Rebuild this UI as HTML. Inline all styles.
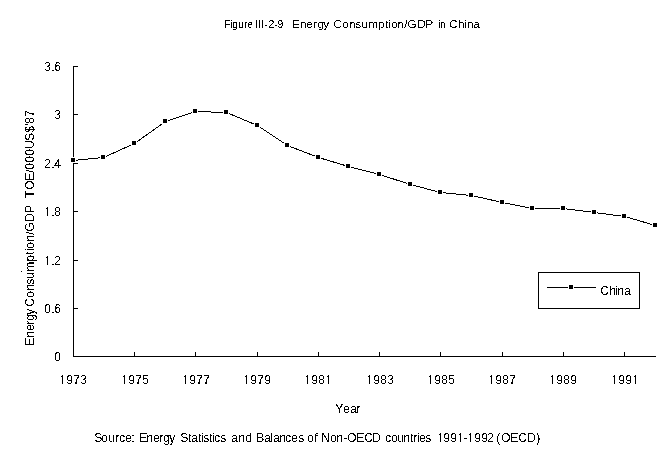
<!DOCTYPE html>
<html><head><meta charset="utf-8"><title>Figure III-2-9 Energy Consumption/GDP in China</title>
<style>
html,body{margin:0;padding:0;background:#fff;}
body{width:662px;height:459px;overflow:hidden;}
svg{display:block;}
text{font-family:"Liberation Sans",Arial,sans-serif;fill:#000;white-space:pre;}
</style></head><body>
<svg width="662" height="459" viewBox="0 0 662 459">
<defs><filter id="px" filterUnits="userSpaceOnUse" x="0" y="0" width="662" height="459" color-interpolation-filters="sRGB"><feComponentTransfer><feFuncA type="discrete" tableValues="0 0 0 0 0 0 0 0 0 1 1 1 1 1 1 1 1 1 1 1"/></feComponentTransfer></filter></defs>
<rect width="662" height="459" fill="#fff"/>
<g shape-rendering="crispEdges" stroke="#000" stroke-width="1" fill="none">
<line x1="73.5" y1="66" x2="73.5" y2="357"/>
<line x1="73" y1="356.5" x2="656" y2="356.5"/>
<line x1="73" y1="66.5" x2="78" y2="66.5"/>
<line x1="73" y1="114.5" x2="78" y2="114.5"/>
<line x1="73" y1="163.5" x2="78" y2="163.5"/>
<line x1="73" y1="211.5" x2="78" y2="211.5"/>
<line x1="73" y1="260.5" x2="78" y2="260.5"/>
<line x1="73" y1="308.5" x2="78" y2="308.5"/>
<line x1="134.5" y1="352" x2="134.5" y2="356"/>
<line x1="195.5" y1="352" x2="195.5" y2="356"/>
<line x1="257.5" y1="352" x2="257.5" y2="356"/>
<line x1="318.5" y1="352" x2="318.5" y2="356"/>
<line x1="379.5" y1="352" x2="379.5" y2="356"/>
<line x1="440.5" y1="352" x2="440.5" y2="356"/>
<line x1="502.5" y1="352" x2="502.5" y2="356"/>
<line x1="563.5" y1="352" x2="563.5" y2="356"/>
<line x1="624.5" y1="352" x2="624.5" y2="356"/>
</g>
<polyline points="73.5,160.5 103.5,157.5 134.5,143.5 165.5,121.5 195.5,111.5 226.5,112.5 257.5,125.5 287.5,145.5 318.5,157.5 348.5,166.5 379.5,174.5 410.5,184.5 440.5,192.5 471.5,195.5 502.5,202.5 532.5,208.5 563.5,208.5 594.5,212.5 624.5,216.5 655.5,225.5" fill="none" stroke="#000" stroke-width="1" shape-rendering="crispEdges"/>
<g shape-rendering="crispEdges"><rect x="70" y="157" width="6" height="6" fill="#fff"/><rect x="100" y="154" width="6" height="6" fill="#fff"/><rect x="131" y="140" width="6" height="6" fill="#fff"/><rect x="162" y="118" width="6" height="6" fill="#fff"/><rect x="192" y="108" width="6" height="6" fill="#fff"/><rect x="223" y="109" width="6" height="6" fill="#fff"/><rect x="254" y="122" width="6" height="6" fill="#fff"/><rect x="284" y="142" width="6" height="6" fill="#fff"/><rect x="315" y="154" width="6" height="6" fill="#fff"/><rect x="345" y="163" width="6" height="6" fill="#fff"/><rect x="376" y="171" width="6" height="6" fill="#fff"/><rect x="407" y="181" width="6" height="6" fill="#fff"/><rect x="437" y="189" width="6" height="6" fill="#fff"/><rect x="468" y="192" width="6" height="6" fill="#fff"/><rect x="499" y="199" width="6" height="6" fill="#fff"/><rect x="529" y="205" width="6" height="6" fill="#fff"/><rect x="560" y="205" width="6" height="6" fill="#fff"/><rect x="591" y="209" width="6" height="6" fill="#fff"/><rect x="621" y="213" width="6" height="6" fill="#fff"/><rect x="652" y="222" width="6" height="6" fill="#fff"/><rect x="71" y="158" width="4" height="4" fill="#000"/><rect x="101" y="155" width="4" height="4" fill="#000"/><rect x="132" y="141" width="4" height="4" fill="#000"/><rect x="163" y="119" width="4" height="4" fill="#000"/><rect x="193" y="109" width="4" height="4" fill="#000"/><rect x="224" y="110" width="4" height="4" fill="#000"/><rect x="255" y="123" width="4" height="4" fill="#000"/><rect x="285" y="143" width="4" height="4" fill="#000"/><rect x="316" y="155" width="4" height="4" fill="#000"/><rect x="346" y="164" width="4" height="4" fill="#000"/><rect x="377" y="172" width="4" height="4" fill="#000"/><rect x="408" y="182" width="4" height="4" fill="#000"/><rect x="438" y="190" width="4" height="4" fill="#000"/><rect x="469" y="193" width="4" height="4" fill="#000"/><rect x="500" y="200" width="4" height="4" fill="#000"/><rect x="530" y="206" width="4" height="4" fill="#000"/><rect x="561" y="206" width="4" height="4" fill="#000"/><rect x="592" y="210" width="4" height="4" fill="#000"/><rect x="622" y="214" width="4" height="4" fill="#000"/><rect x="653" y="223" width="4" height="4" fill="#000"/></g>
<g shape-rendering="crispEdges">
<rect x="538.5" y="272.5" width="101" height="36" fill="#fff" stroke="#000" stroke-width="1"/>
<line x1="547" y1="287.5" x2="596" y2="287.5" stroke="#000"/>
<rect x="568" y="284" width="6" height="6" fill="#fff"/>
<rect x="569" y="285" width="4" height="4" fill="#000"/>
</g>
<rect x="21" y="271" width="1" height="1" fill="#000" shape-rendering="crispEdges"/>
<g filter="url(#px)">
<text transform="scale(0.9293,1)" y="28" font-size="11" xml:space="preserve"><tspan x="241.26 247.72 249.87 256.32 262.78 266.01">Figure </tspan></text>
<text transform="scale(0.9926,1)" y="28" font-size="11" xml:space="preserve"><tspan x="257.1 260.13 263.15 266.17 270.2 276.25 279.27">III-2-9   </tspan></text>
<text transform="scale(1.0712,1)" y="28" font-size="11" xml:space="preserve"><tspan x="272.77 280.24 285.84 292.38 296.11 301.71">Energy </tspan></text>
<text transform="scale(1.0895,1)" y="28" font-size="11" xml:space="preserve"><tspan x="305.83 314.09 320.51 326.02 331.53 337.95 347.13 353.56 356.31 359.06 364.57 370.99 373.75 382.93 390.27">Consumption/GDP </tspan></text>
<text transform="scale(0.8767,1)" y="28" font-size="11" xml:space="preserve"><tspan x="499.82 502.1">in </tspan></text>
<text transform="scale(1.0717,1)" y="28" font-size="11" xml:space="preserve"><tspan x="419.15 427.55 433.15 435.95 441.55">China</tspan></text>
<text y="71" font-size="12"><tspan x="44.2 51.2 54.2">3.6</tspan></text>
<text y="119" font-size="12"><tspan x="54.2">3</tspan></text>
<text y="168" font-size="12"><tspan x="44.2 51.2 54.2">2.4</tspan></text>
<text y="216" font-size="12"><tspan x="44.2 51.2 54.2">1.8</tspan></text>
<text y="265" font-size="12"><tspan x="44.2 51.2 54.2">1.2</tspan></text>
<text y="313" font-size="12"><tspan x="44.2 51.2 54.2">0.6</tspan></text>
<text y="361" font-size="12"><tspan x="54.2">0</tspan></text>
<text y="384" font-size="12"><tspan x="59.2 66.2 73.2 80.2">1973</tspan></text>
<text y="384" font-size="12"><tspan x="121.2 128.2 135.2 142.2">1975</tspan></text>
<text y="384" font-size="12"><tspan x="182.2 189.2 196.2 203.2">1977</tspan></text>
<text y="384" font-size="12"><tspan x="243.2 250.2 257.2 264.2">1979</tspan></text>
<text y="384" font-size="12"><tspan x="304.2 311.2 318.2 325.2">1981</tspan></text>
<text y="384" font-size="12"><tspan x="366.2 373.2 380.2 387.2">1983</tspan></text>
<text y="384" font-size="12"><tspan x="427.2 434.2 441.2 448.2">1985</tspan></text>
<text y="384" font-size="12"><tspan x="488.2 495.2 502.2 509.2">1987</tspan></text>
<text y="384" font-size="12"><tspan x="549.2 556.2 563.2 570.2">1989</tspan></text>
<text y="384" font-size="12"><tspan x="611.2 618.2 625.2 632.2">1991</tspan></text>
<text y="413" font-size="12"><tspan x="335.2 343.2 350.2 356.2">Year</tspan></text>
<text transform="translate(34,0) rotate(-90)" font-size="12" xml:space="preserve"><tspan x="-345.8 -337.8 -330.8 -324.8 -320.8 -314.8">Energy </tspan><tspan x="-306.8 -297.8 -290.8 -284.8 -278.8 -271.8 -261.8 -254.8 -250.8 -248.8 -241.8 -234.8 -231.8 -221.8 -212.8">Consumption/GDP  </tspan><tspan x="-197.8 -189.8 -180.8 -172.8 -169.8 -162.8 -155.8 -148.8 -140.8 -132.8 -125.8 -123.8 -116.8">TOE/000US$'87</tspan></text>
<text y="442" font-size="12" xml:space="preserve"><tspan x="94.2 101.2 108.2 115.2 119.2 125.2 131.2">Source: </tspan><tspan x="139.2 146.2 153.2 159.2 163.2 169.2">Energy </tspan><tspan x="180.2 188.2 191.2 198.2 201.2 203.2 209.2 212.2 214.2 220.2">Statistics </tspan><tspan x="231.2 238.2 245.2">and </tspan><tspan x="256.2 264.2 270.2 273.2 279.2 285.2 291.2 298.2">Balances </tspan><tspan x="307.2 314.2">of </tspan><tspan x="321.2 330.2 336.2 343.2 347.2 356.2 364.2 372.2">Non-OECD </tspan><tspan x="385.2 391.2 397.2 403.2 410.2 413.2 417.2 419.2 425.2">countries </tspan><tspan x="437.2 443.2 450.2 457.2 463.2 467.2 474.2 481.2 487.2">1991-1992 </tspan><tspan x="496.2 501.2 510.2 518.2 527.2 536.2">(OECD)</tspan></text>
<text y="295" font-size="12"><tspan x="600.2 609.2 615.2 617.2 624.2">China</tspan></text>
</g>
<g fill="#fff" shape-rendering="crispEdges"><rect x="45" y="215" width="2" height="1"/><rect x="48" y="215" width="2" height="1"/><rect x="45" y="264" width="2" height="1"/><rect x="48" y="264" width="2" height="1"/><rect x="60" y="383" width="2" height="1"/><rect x="63" y="383" width="2" height="1"/><rect x="122" y="383" width="2" height="1"/><rect x="125" y="383" width="2" height="1"/><rect x="183" y="383" width="2" height="1"/><rect x="186" y="383" width="2" height="1"/><rect x="244" y="383" width="2" height="1"/><rect x="247" y="383" width="2" height="1"/><rect x="305" y="383" width="2" height="1"/><rect x="308" y="383" width="2" height="1"/><rect x="326" y="383" width="2" height="1"/><rect x="329" y="383" width="2" height="1"/><rect x="367" y="383" width="2" height="1"/><rect x="370" y="383" width="2" height="1"/><rect x="428" y="383" width="2" height="1"/><rect x="431" y="383" width="2" height="1"/><rect x="489" y="383" width="2" height="1"/><rect x="492" y="383" width="2" height="1"/><rect x="550" y="383" width="2" height="1"/><rect x="553" y="383" width="2" height="1"/><rect x="612" y="383" width="2" height="1"/><rect x="615" y="383" width="2" height="1"/><rect x="633" y="383" width="2" height="1"/><rect x="636" y="383" width="2" height="1"/><rect x="438" y="441" width="2" height="1"/><rect x="441" y="441" width="2" height="1"/><rect x="458" y="441" width="2" height="1"/><rect x="461" y="441" width="2" height="1"/><rect x="468" y="441" width="2" height="1"/><rect x="471" y="441" width="2" height="1"/></g>
</svg></body></html>
